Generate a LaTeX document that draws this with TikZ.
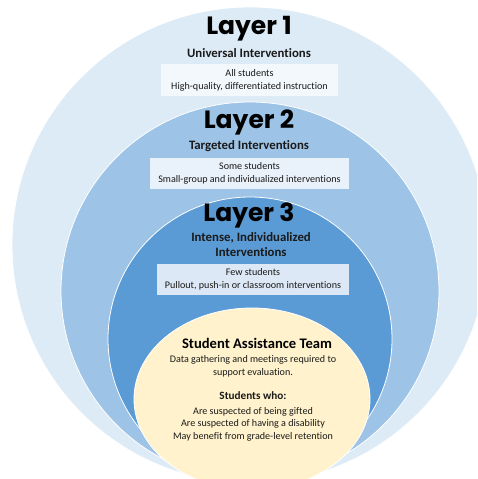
\documentclass[tikz,border=0pt]{standalone}
\usepackage{fontspec}
\setmainfont{Carlito}[Ligatures=NoCommon]
\newfontfamily\titlefont{Poppins}
\definecolor{ringA}{HTML}{DDEBF7}
\definecolor{ringB}{HTML}{9DC3E6}
\definecolor{ringC}{HTML}{5B9BD5}
\definecolor{coreY}{HTML}{FFF2CC}
\definecolor{boxA}{HTML}{F3F8FC}
\definecolor{boxB}{HTML}{E9F1FA}
\definecolor{boxC}{HTML}{DCE8F5}
\definecolor{txt}{HTML}{1A1A1A}
\tikzset{
  ring/.style={draw=white, line width=0.8pt},
  layertitle/.style={font=\titlefont\bfseries\fontsize{25}{28}\selectfont, text=black, inner sep=0pt},
  subtitle/.style={font=\bfseries\fontsize{12.8}{15.5}\selectfont, text=txt, align=center, inner sep=0pt},
  infobox/.style={font=\fontsize{10.1}{13}\selectfont, text=txt, align=center, inner sep=0pt},
  bodytext/.style={font=\fontsize{10.1}{12.5}\selectfont, text=txt, align=center, inner sep=0pt}
}
\begin{document}
\begin{tikzpicture}[x=1pt,y=-1pt]
\useasboundingbox (0,0) rectangle (477,479);
\begin{scope}
\clip (0,0) rectangle (477,479);
\fill[white] (0,0) rectangle (477,479);
\draw[ring, fill=ringA] (250,245) circle[radius=238];
\draw[ring, fill=ringB] (250,291) circle[radius=189];
\draw[ring, fill=ringC] (250,339) circle[radius=142];
\draw[ring, fill=coreY] (252,399) ellipse[x radius=118, y radius=91];
\end{scope}
% Layer 1
\node[layertitle] (t1) at (249,29) {Layer 1};
\node[subtitle] (s1) at (249,53) {Universal Interventions};
\node[infobox, fill=boxA, minimum width=177pt, minimum height=32pt] (b1) at (249.5,80) {All students\\High-quality, differentiated instruction};
% Layer 2
\node[layertitle] (t2) at (249,122) {Layer 2};
\node[subtitle] (s2) at (249,146) {Targeted Interventions};
\node[infobox, fill=boxB, minimum width=199pt, minimum height=31pt] (b2) at (249.5,173.5) {Some students\\Small-group and individualized interventions};
% Layer 3
\node[layertitle] (t3) at (249,215) {Layer 3};
\node[subtitle] (s3) at (251,244.5) {Intense, Individualized\\Interventions};
\node[infobox, fill=boxC, minimum width=192pt, minimum height=31pt] (b3) at (253,279.5) {Few students\\Pullout, push-in or classroom interventions};
% Core
\node[font=\bfseries\fontsize{14.6}{17}\selectfont, text=black, inner sep=0pt] (sat) at (257,343) {Student Assistance Team};
\node[bodytext] (sat1) at (253,366.5) {Data gathering and meetings required to\\support evaluation.};
\node[font=\bfseries\fontsize{11.2}{13}\selectfont, text=txt, inner sep=0pt] (sw) at (253,396) {Students who:};
\node[bodytext] (sw1) at (253,424) {Are suspected of being gifted\\Are suspected of having a disability\\May benefit from grade-level retention};
\end{tikzpicture}
\end{document}
